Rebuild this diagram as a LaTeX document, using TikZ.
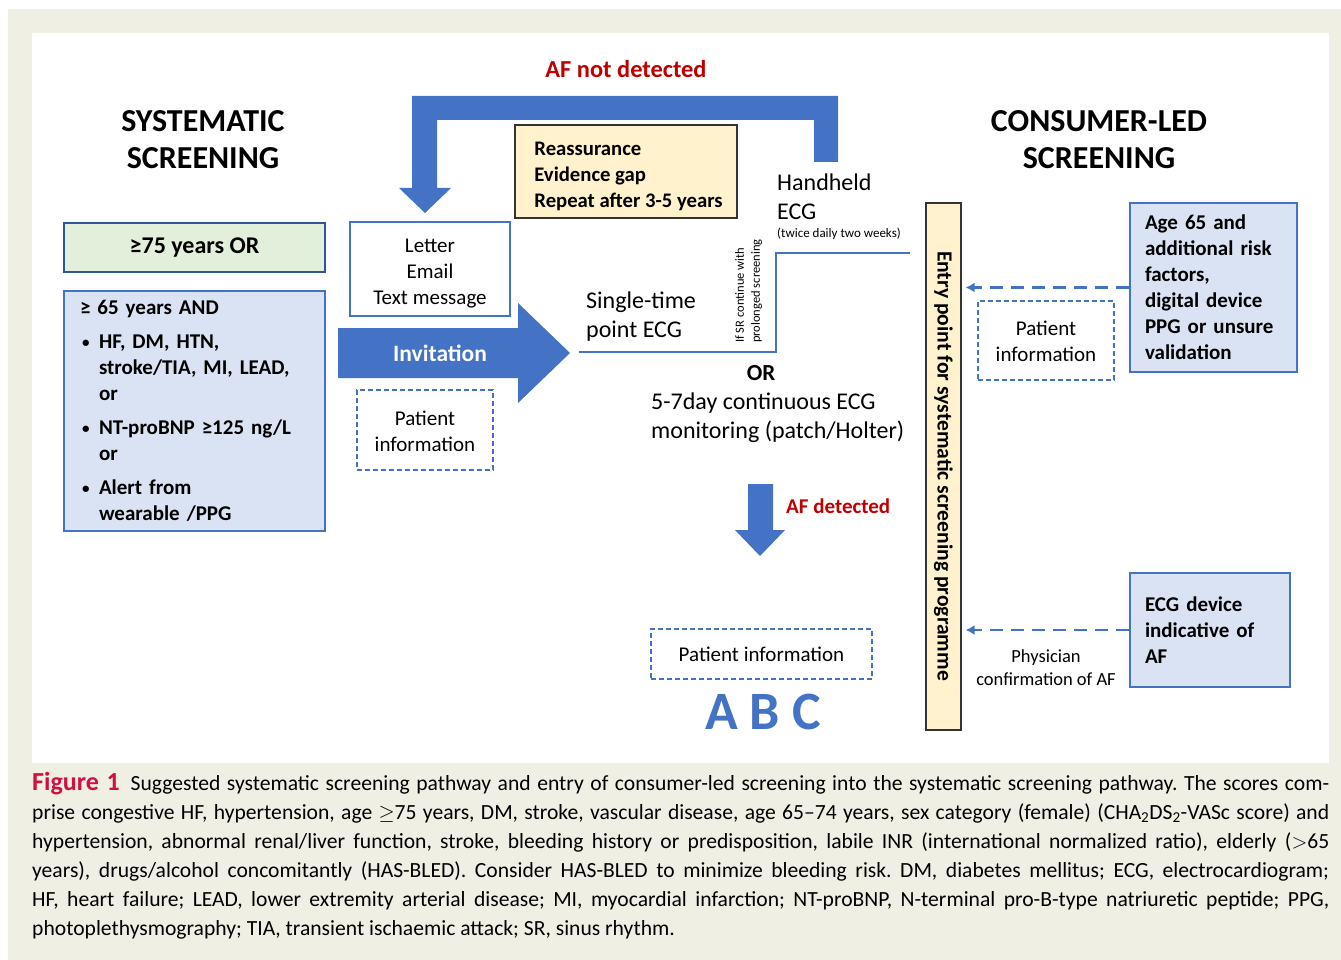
\documentclass[tikz,border=0pt]{standalone}
\usepackage{fontspec}
\setmainfont{Carlito}
\usetikzlibrary{arrows.meta}
\definecolor{bg}{RGB}{239,239,227}
\definecolor{ablue}{RGB}{68,114,196}
\definecolor{dblue}{RGB}{47,85,151}
\definecolor{lblue}{RGB}{218,227,243}
\definecolor{lgreen}{RGB}{226,239,218}
\definecolor{lyellow}{RGB}{255,242,204}
\definecolor{afred}{RGB}{192,0,0}
\definecolor{figred}{RGB}{206,17,65}
\newcommand{\myfs}[2]{\fontsize{#1}{#2}\selectfont}
\newcommand{\mybul}{\makebox[17pt][l]{\myfs{15}{15}\raisebox{1.5pt}{•}}}
\begin{document}
\begin{tikzpicture}[x=1pt,y=-1pt,
  heading/.style={font=\bfseries\myfs{32}{37}, align=center, inner sep=0},
  bluebox/.style={draw=ablue, fill=lblue, line width=2.5pt, font=\bfseries\myfs{21}{26}, align=left, inner sep=0},
  dashbox/.style={draw=ablue, line width=1.2pt, dash pattern=on 5pt off 3pt, font=\myfs{21}{26}, align=center, inner sep=0},
  yellowbox/.style={draw=black!80, fill=lyellow, line width=1.2pt, inner sep=0},
  plain/.style={font=\myfs{24}{29}, align=left, inner sep=0},
  blockarrow/.style={fill=ablue},
  dasharrow/.style={draw=ablue, line width=2.8pt, dash pattern=on 13pt off 8pt, -{Latex[length=9pt,width=10pt]}},
  redlabel/.style={text=afred, font=\bfseries\myfs{24.4}{28}, inner sep=0}
]
\useasboundingbox (0,0) rectangle (1341,960);
\fill[bg] (8,9) rectangle (1341,960);
\fill[white] (32,33) rectangle (1329,763);

% headings
\node[heading] (sysh) at (203,140) {SYSTEMATIC\\SCREENING};
\node[heading] (conh) at (1099,140) {CONSUMER-LED\\SCREENING};

% left boxes
\node[draw=dblue, fill=lgreen, line width=2.5pt, minimum width=261pt, minimum height=49pt, inner sep=0,
      font=\bfseries\myfs{24}{26}] (age75) at (194.5,247.5) {≥75 years OR};
\node[bluebox, minimum width=261pt, minimum height=240pt, text width=245pt] (age65) at (194.5,411)
 {\hspace*{8pt}≥ 65 years AND\\[8pt]
  \hspace*{10pt}\mybul HF, DM, HTN,\\
  \hspace*{27pt}stroke/TIA, MI, LEAD,\\
  \hspace*{27pt}or\\[8pt]
  \hspace*{10pt}\mybul NT-proBNP ≥125 ng/L\\
  \hspace*{27pt}or\\[8pt]
  \hspace*{10pt}\mybul Alert from\\
  \hspace*{27pt}wearable /PPG};

% invitation column
\node[draw=ablue, line width=1.2pt, minimum width=160pt, minimum height=94pt, inner sep=0,
      font=\myfs{21}{26}, align=center] (letter) at (430,269) {\rule{0pt}{23pt}Letter\\Email\\Text message};
\fill[blockarrow] (338,328) -- (518,328) -- (518,303) -- (570,353) -- (518,403) -- (518,378) -- (338,378) -- cycle;
\coordinate (invtip) at (570,353);
\node[text=white, font=\bfseries\myfs{23.5}{28}, inner sep=0] (inv) at (440,353) {Invitation};
\node[dashbox, minimum width=136pt, minimum height=80pt] (pinfo1) at (425,430) {\rule{0pt}{17pt}Patient\\information};

% reassurance
\node[yellowbox, minimum width=222pt, minimum height=93pt, align=left,
      font=\bfseries\myfs{20.7}{26}] (reass) at (626,171.5)
      {\hspace*{5pt}\rule{0pt}{23pt}Reassurance\\\hspace*{5pt}Evidence gap\\\hspace*{5pt}Repeat after 3-5 years};

% AF not detected U arrow
\node[redlabel] (afnot) at (626,69) {AF not detected};
\fill[blockarrow] (412,96) -- (838,96) -- (838,162) -- (814,162) -- (814,120) -- (437,120) -- (437,188)
   -- (451,188) -- (425,213) -- (399,188) -- (412,188) -- cycle;

% ECG texts
\node[plain, anchor=west] (hand) at (777,197) {Handheld\\ECG};
\node[font=\myfs{13}{15}, inner sep=0, anchor=west] (twice) at (777,234) {(twice daily two weeks)};
\node[plain, anchor=west] (single) at (586,317) {Single-time\\point ECG};
\node[rotate=90, anchor=north west, inner sep=0, align=left, font=\myfs{12.5}{16}] (ifsr) at (735,343)
   {If SR continue with\\prolonged screening};
\node[font=\bfseries\myfs{23}{28}, inner sep=0] (or) at (761,373) {OR};
\node[plain, anchor=west] (cont) at (651,418) {5-7day continuous ECG\\monitoring (patch/Holter)};

% step line
\coordinate (s0) at (579,352);
\coordinate (s1) at (776,352);
\coordinate (s2) at (776,253);
\coordinate (s3) at (910,253);
\draw[ablue, line width=2.5pt] (s0) -- (s1) -- (s2) -- (s3);

% AF detected
\fill[blockarrow] (748,484) -- (773,484) -- (773,530) -- (785,530) -- (760,556) -- (735,530) -- (748,530) -- cycle;
\node[redlabel, anchor=west, font=\bfseries\myfs{21}{26}] (afdet) at (786,506) {AF detected};
\node[dashbox, minimum width=221pt, minimum height=50pt] (pinfo2) at (761.5,654) {Patient information};
\node[text=ablue, font=\bfseries\myfs{54}{60}, inner sep=0] (abc) at (763,712) {A B C};

% entry bar
\node[yellowbox, minimum width=35pt, minimum height=527pt] (entry) at (943.5,466.5) {};
\node[rotate=-90, font=\bfseries\myfs{21.6}{26}, inner sep=0] (entrytxt) at (943.5,466) {Entry point for systematic screening programme};

% consumer boxes
\node[bluebox, minimum width=167pt, minimum height=169pt, text width=152pt] (rt) at (1213.5,287.5)
  {\hspace*{7.5pt}Age 65 and\\\hspace*{7.5pt}additional risk\\\hspace*{7.5pt}factors,\\\hspace*{7.5pt}digital device\\\hspace*{7.5pt}PPG or unsure\\\hspace*{7.5pt}validation};
\node[bluebox, minimum width=160pt, minimum height=114pt, text width=145pt] (rb) at (1210,630)
  {\hspace*{7.5pt}ECG device\\\hspace*{7.5pt}indicative of\\\hspace*{7.5pt}AF};
\draw[dasharrow, shorten >=4pt] (rt.west) -- (entry.east |- rt.west);
\draw[dasharrow, shorten >=4pt] (rb.west) -- (entry.east |- rb.west);
\node[dashbox, minimum width=136pt, minimum height=79pt] (pinfo3) at (1046,340.5) {\rule{0pt}{17pt}Patient\\information};
\node[font=\myfs{18.5}{23}, align=center, inner sep=0] (phys) at (1046,668) {Physician\\confirmation of AF};

% caption
\node[anchor=north west, text width=1297pt, align=justify, inner sep=0, font=\myfs{21.6}{29}] (cap) at (32,772)
{\frenchspacing\hyphenpenalty=10000\emergencystretch=20pt{\color{figred}\bfseries\myfs{26}{29}Figure 1}\hspace{0.5em}Suggested systematic screening pathway and entry of consumer-led screening into the systematic screening pathway. The scores com-\linebreak
prise congestive HF, hypertension, age $\geq$75 years, DM, stroke, vascular disease, age 65–74 years, sex category (female) (CHA\textsubscript{2}DS\textsubscript{2}-VASc score) and\linebreak
hypertension, abnormal renal/liver function, stroke, bleeding history or predisposition, labile INR (international normalized ratio), elderly ($>$65\linebreak
years), drugs/alcohol concomitantly (HAS-BLED). Consider HAS-BLED to minimize bleeding risk. DM, diabetes mellitus; ECG, electrocardiogram;\linebreak
HF, heart failure; LEAD, lower extremity arterial disease; MI, myocardial infarction; NT-proBNP, N-terminal pro-B-type natriuretic peptide; PPG,\linebreak
photoplethysmography; TIA, transient ischaemic attack; SR, sinus rhythm.};
\end{tikzpicture}
\end{document}
